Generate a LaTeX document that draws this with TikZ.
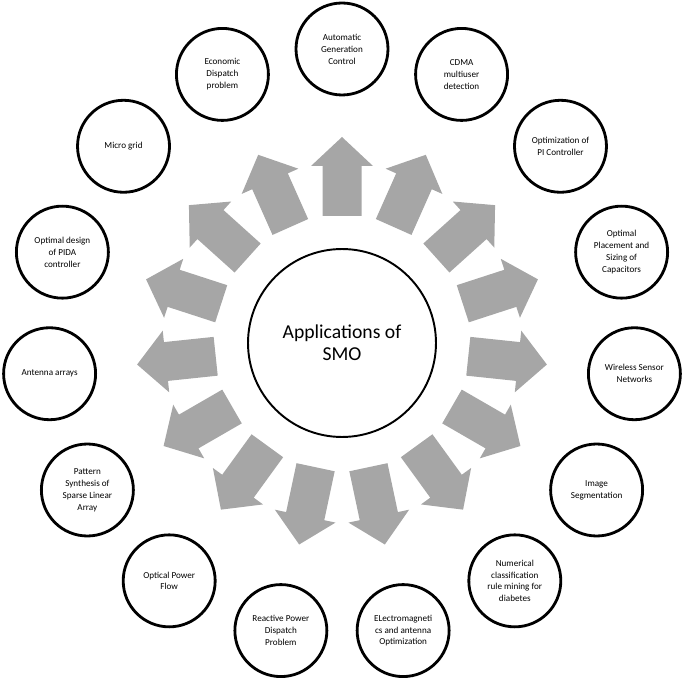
\documentclass[tikz,border=0pt]{standalone}
\usepackage{fontspec}
\setmainfont{Carlito}
\usepackage{tikz}
\definecolor{arrowgray}{RGB}{166,166,166}
\tikzset{
  app/.style={circle, draw, line width=1.6pt, minimum size=1.84cm, inner sep=0pt, align=center, font=\fontsize{5.2}{6.8}\selectfont},
  hub/.style={circle, draw, line width=1.1pt, minimum size=3.76cm, inner sep=0pt, align=center, font=\fontsize{11.2}{12.4}\selectfont}
}

\begin{document}
\begin{tikzpicture}[x=0.02cm, y=0.02cm]
\useasboundingbox (-342,-339) rectangle (343,343);

\foreach \a in {90,66,...,-246}
  \fill[arrowgray, rotate=\a] (127,-19.5) -- (177,-19.5) -- (177,-31) -- (206,0) -- (177,31) -- (177,19.5) -- (127,19.5) -- cycle;

\node[hub] (smo) at (0,0) {Applications of\\SMO};

\node[app] (agc) at (90:294) {Automatic\\Generation\\Control};
\node[app] (cdma) at (66:294) {CDMA\\multiuser\\detection};
\node[app] (pi) at (42:294) {Optimization of\\PI Controller};
\node[app] (cap) at (18:294) {Optimal\\Placement and\\Sizing of\\Capacitors};
\node[app] (wsn) at (-6:294) {Wireless Sensor\\Networks};
\node[app] (seg) at (-30:294) {Image\\Segmentation};
\node[app] (rule) at (-54:294) {Numerical\\classification\\rule mining for\\diabetes};
\node[app] (em) at (-78:294) {ELectromagneti\\cs and antenna\\Optimization};
\node[app] (rpd) at (-102:294) {Reactive Power\\Dispatch\\Problem};
\node[app] (opf) at (-126:294) {Optical Power\\Flow};
\node[app] (sla) at (-150:294) {Pattern\\Synthesis of\\Sparse Linear\\Array};
\node[app] (ant) at (-174:294) {Antenna arrays};
\node[app] (pida) at (162:294) {Optimal design\\of PIDA\\controller};
\node[app] (mg) at (138:294) {Micro grid};
\node[app] (ed) at (114:294) {Economic\\Dispatch\\problem};

\end{tikzpicture}
\end{document}
